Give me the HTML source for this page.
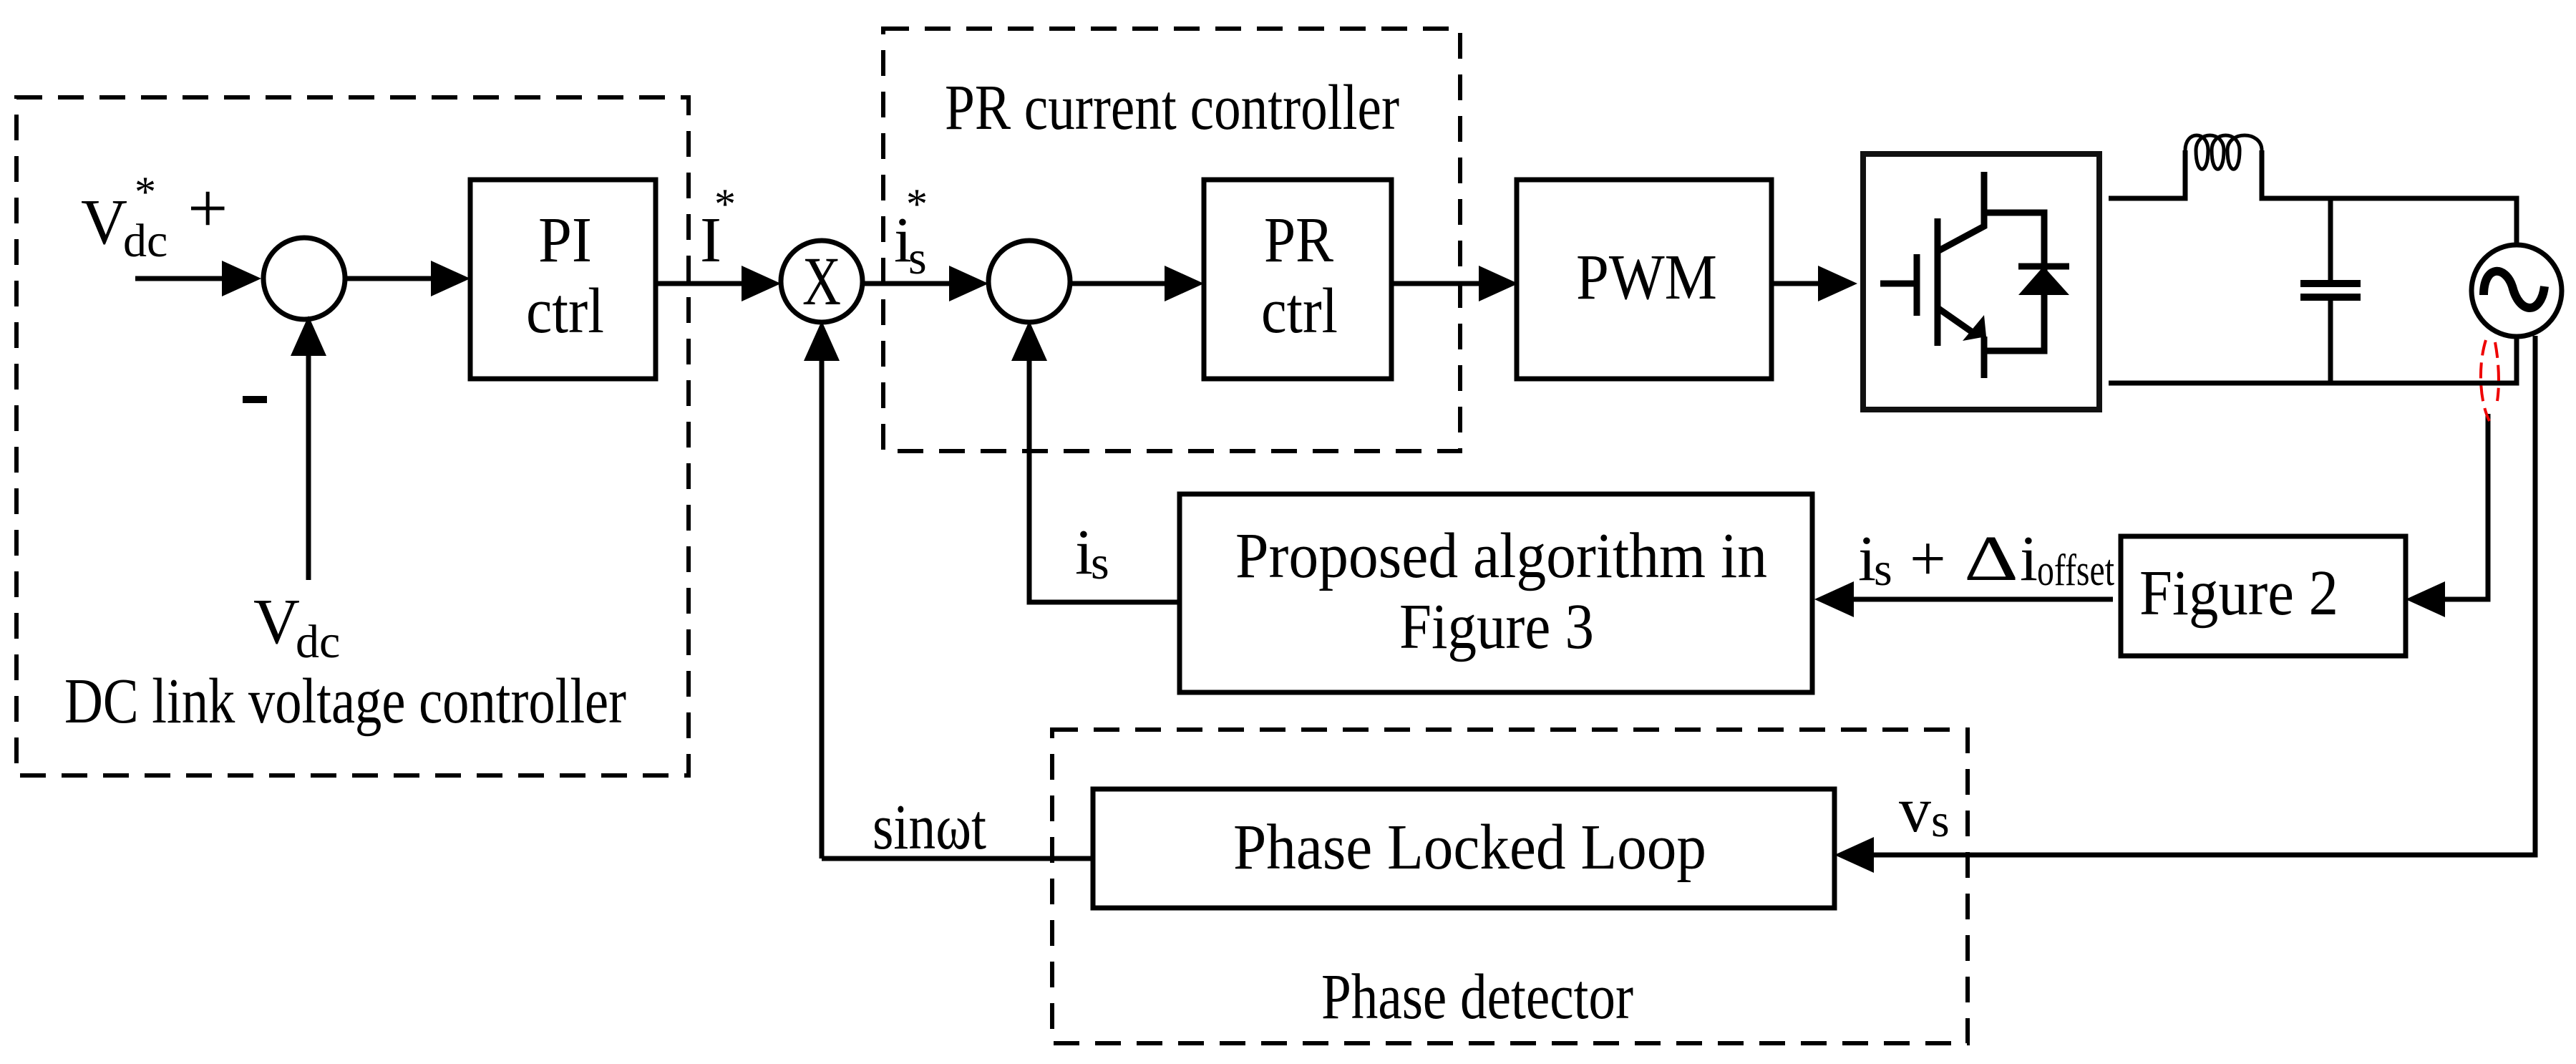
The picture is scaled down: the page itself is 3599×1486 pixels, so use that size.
<!DOCTYPE html>
<html><head><meta charset="utf-8"><style>html,body{margin:0;padding:0;background:#fff}svg{display:block}</style></head>
<body>
<svg width="3599" height="1486" viewBox="0 0 3599 1486" xmlns="http://www.w3.org/2000/svg" font-family="Liberation Serif, serif" fill="#000">
<g fill="none" stroke="#000" stroke-width="6" stroke-dasharray="36 22">
<rect x="23" y="136" width="939" height="947"/>
<rect x="1234" y="40" width="806" height="590"/>
<rect x="1470" y="1019" width="1279" height="438"/>
</g>
<g fill="none" stroke="#000" stroke-width="7">
<circle cx="425" cy="389" r="57"/>
<circle cx="1148" cy="393" r="57"/>
<circle cx="1438" cy="393" r="57"/>
<rect x="657" y="251" width="259" height="278"/>
<rect x="1682" y="251" width="262" height="278"/>
<rect x="2119" y="251" width="356" height="278"/>
<rect x="1648" y="690" width="884" height="277"/>
<rect x="1527" y="1102" width="1036" height="166"/>
<rect x="2963" y="749" width="398" height="167"/>
<polyline points="189,389 320,389"/>
<polyline points="484,389 612,389"/>
<polyline points="431,810 431,490"/>
<polyline points="916,396 1042,396"/>
<polyline points="1208,396 1332,396"/>
<polyline points="1498,396 1636,396"/>
<polyline points="1944,396 2075,396"/>
<polyline points="2475,396 2548,396"/>
<polyline points="1148,1199 1148,496"/>
<polyline points="1148,1199 1527,1199"/>
<polyline points="1648,841 1438,841 1438,496"/>
<polyline points="2952,837 2582,837"/>
<polyline points="3476,578 3476,837 3408,837"/>
<polyline points="3542,469 3542,1194 2610,1194"/>
</g>
<g>
<polygon points="365,389 310,364 310,414"/>
<polygon points="657,389 602,364 602,414"/>
<polygon points="431,441 406,497 456,497"/>
<polygon points="1091,396 1036,371 1036,421"/>
<polygon points="1381,396 1326,371 1326,421"/>
<polygon points="1682,396 1627,371 1627,421"/>
<polygon points="2121,396 2066,371 2066,421"/>
<polygon points="2595,396 2540,371 2540,421"/>
<polygon points="1148,448 1123,504 1173,504"/>
<polygon points="1438,448 1413,504 1463,504"/>
<polygon points="2535,837 2590,812 2590,862"/>
<polygon points="3361,837 3416,812 3416,862"/>
<polygon points="2563,1194 2618,1169 2618,1219"/>
</g>
<!-- inverter -->
<rect x="2603" y="215" width="330" height="357" fill="#fff" stroke="#111" stroke-width="8"/>
<g fill="none" stroke="#000" stroke-width="9">
<polyline points="2627,396 2678,396"/>
<polyline points="2678,355 2678,441"/>
<polyline points="2707,305 2707,483"/>
<polyline points="2707,351 2772,316 2772,240"/>
<polyline points="2772,297 2856,297 2856,490 2772,490"/>
<polyline points="2772,470 2772,528"/>
<polyline points="2707,430 2760,467"/>
<polyline points="2820,372 2891,372"/>
</g>
<polygon points="2855,372 2820,412 2891,412"/>
<polygon points="2775,470 2742,476 2772,440"/>
<!-- filter -->
<g fill="none" stroke="#000" stroke-width="7">
<polyline points="2946,277 3053,277 3053,210"/>
<polyline points="3160,210 3160,277 3516,277 3516,343"/>
<path d="M3053,210 C3053,182 3085,182 3085,210 C3085,245 3068,245 3068,210 C3068,182 3107,182 3107,210 C3107,245 3090,245 3090,210 C3090,182 3129,182 3129,210 C3129,245 3112,245 3112,210 C3112,182 3160,182 3160,210" stroke-width="5"/>
<polyline points="3256,277 3256,396"/>
<polyline points="3256,414 3256,535"/>
<polyline points="2946,535 3516,535 3516,469"/>
<ellipse cx="3516" cy="406" rx="63" ry="64"/>
<path d="M3470,412 C3470,370 3500,370 3510,400 C3520,440 3550,440 3555,400" stroke-width="12"/>
</g>
<g fill="#000"><rect x="3214" y="391" width="84" height="10"/><rect x="3214" y="410" width="84" height="10"/></g>
<g fill="none" stroke="#e00" stroke-width="4" stroke-dasharray="22 10">
<path d="M3473,475 C3462,510 3464,560 3478,588"/>
<path d="M3486,478 C3492,510 3492,540 3489,560"/>
</g>
<!-- text -->
<g font-size="90">
<text x="113" y="340">V</text><text x="172" y="358" font-size="66">dc</text><text x="188" y="288" font-size="60">*</text>
<text x="262" y="324" font-size="100">+</text>
<rect x="339" y="553" width="34" height="10"/>
<text x="354" y="898">V</text><text x="413" y="918" font-size="66">dc</text>
<text x="90" y="1009" textLength="785" lengthAdjust="spacingAndGlyphs">DC link voltage controller</text>
<text x="752" y="365" textLength="75" lengthAdjust="spacingAndGlyphs">PI</text>
<text x="735" y="464" textLength="109" lengthAdjust="spacingAndGlyphs">ctrl</text>
<text x="1766" y="365" textLength="97" lengthAdjust="spacingAndGlyphs">PR</text>
<text x="1762" y="464" textLength="107" lengthAdjust="spacingAndGlyphs">ctrl</text>
<text x="2202" y="417" textLength="197" lengthAdjust="spacingAndGlyphs">PWM</text>
<text x="978" y="365">I</text><text x="998" y="305" font-size="60">*</text>
<text x="1121" y="425" font-size="96" textLength="54" lengthAdjust="spacingAndGlyphs">X</text>
<text x="1249" y="365">i</text><text x="1269" y="382" font-size="66">s</text><text x="1266" y="305" font-size="60">*</text>
<text x="1320" y="180" textLength="635" lengthAdjust="spacingAndGlyphs">PR current controller</text>
<text x="1502" y="801">i</text><text x="1524" y="808" font-size="66">s</text>
<text x="1726" y="806" textLength="743" lengthAdjust="spacingAndGlyphs">Proposed algorithm in</text>
<text x="1955" y="905" textLength="272" lengthAdjust="spacingAndGlyphs">Figure 3</text>
<text x="2596" y="810">i</text><text x="2618" y="817" font-size="66">s</text>
<text x="2668" y="810">+</text><text x="2744" y="810" textLength="76" lengthAdjust="spacingAndGlyphs">Δ</text><text x="2822" y="810">i</text>
<text x="2846" y="817" font-size="62" textLength="108" lengthAdjust="spacingAndGlyphs">offset</text>
<text x="2989" y="858" textLength="278" lengthAdjust="spacingAndGlyphs">Figure 2</text>
<text x="1219" y="1185" textLength="159" lengthAdjust="spacingAndGlyphs">sinωt</text>
<text x="1723" y="1213" textLength="661" lengthAdjust="spacingAndGlyphs">Phase Locked Loop</text>
<text x="2653" y="1161">v</text><text x="2698" y="1168" font-size="66">s</text>
<text x="1846" y="1422" textLength="436" lengthAdjust="spacingAndGlyphs">Phase detector</text>
</g>
</svg>
</body></html>
